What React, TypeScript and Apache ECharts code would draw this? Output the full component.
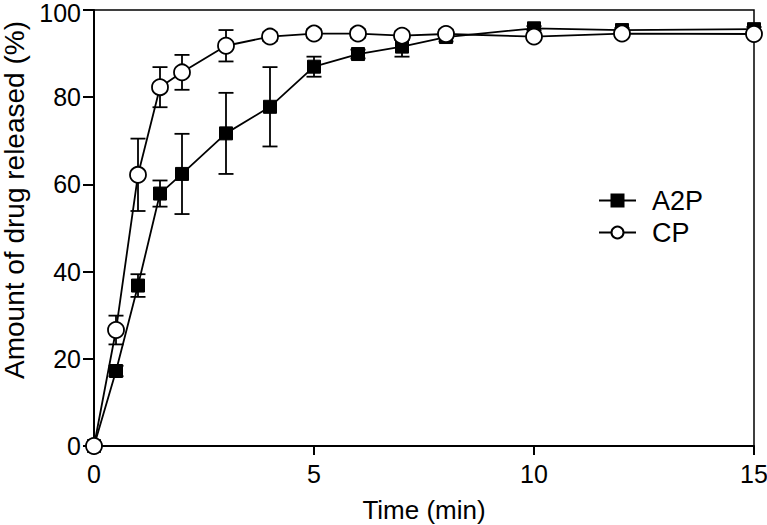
import React, { useEffect, useRef } from "react";
import * as echarts from "echarts";

const times = [0, 0.5, 1, 1.5, 2, 3, 4, 5, 6, 7, 8, 10, 12, 15];
const a2pMean = [0, 17.2, 36.8, 57.9, 62.4, 71.7, 77.8, 87.0, 89.9, 91.6, 93.8, 95.8, 95.4, 95.6];
const a2pSd = [0, 1.2, 2.6, 3.0, 9.2, 9.3, 9.1, 2.3, 1.0, 2.3, 1.0, 0.5, 0.5, 0.5];
const cpMean = [0, 26.6, 62.2, 82.3, 85.7, 91.8, 93.9, 94.6, 94.6, 94.1, 94.5, 93.9, 94.6, 94.5];
const cpSd = [0, 3.3, 8.3, 4.6, 4.0, 3.6, 1.0, 1.0, 1.0, 1.0, 1.0, 0.5, 0.5, 0.5];
const xTicks = [0, 5, 10, 15];
const yTicks = [0, 20, 40, 60, 80, 100];
const seriesNames = ["A2P", "CP"];

const FONT = "'Liberation Sans', Arial, Helvetica, sans-serif";

function errData(mean: number[], sd: number[]) {
  return times.map((t, i) => [t, mean[i] - sd[i], mean[i] + sd[i]]);
}

function errRender(params: any, api: any) {
  const x = api.value(0);
  const lo = api.value(1);
  const hi = api.value(2);
  const pHi = api.coord([x, hi]);
  const pLo = api.coord([x, lo]);
  const w = 7.5;
  const style = { stroke: "#000", lineWidth: 1.8 };
  return {
    type: "group",
    children: [
      { type: "line", shape: { x1: pHi[0], y1: pHi[1], x2: pLo[0], y2: pLo[1] }, style },
      { type: "line", shape: { x1: pHi[0] - w, y1: pHi[1], x2: pHi[0] + w, y2: pHi[1] }, style },
      { type: "line", shape: { x1: pLo[0] - w, y1: pLo[1], x2: pLo[0] + w, y2: pLo[1] }, style },
    ],
  };
}

export default function App() {
  const ref = useRef<HTMLDivElement>(null);
  useEffect(() => {
    if (!ref.current) return;
    const chart = echarts.init(ref.current, undefined, { renderer: "svg" });
    const yMax = yTicks[yTicks.length - 1];
    chart.setOption({
      animation: false,
      backgroundColor: "#fff",
      textStyle: { fontFamily: FONT },
      grid: {
        left: 94,
        top: 10,
        width: 660,
        height: 436,
        containLabel: false,
        outerBoundsMode: "none",
        show: true,
        borderColor: "#000",
        borderWidth: 1.5,
        backgroundColor: "transparent",
      },
      legend: {
        data: seriesNames,
        orient: "vertical",
        left: 593,
        top: 182,
        itemWidth: 37,
        itemHeight: 15,
        itemGap: 5,
        textStyle: { fontSize: 27, color: "#000", fontFamily: FONT, padding: [0, 0, 0, 11] },
      },
      xAxis: {
        type: "value",
        min: 0,
        max: 15,
        interval: 5,
        name: "Time (min)",
        nameLocation: "middle",
        nameGap: 51,
        nameTextStyle: { fontSize: 26, color: "#000", fontFamily: FONT },
        axisLine: { lineStyle: { color: "#000", width: 2 } },
        axisTick: { show: true, length: 9, lineStyle: { color: "#000", width: 2 } },
        axisLabel: {
          fontSize: 25,
          color: "#000",
          fontFamily: FONT,
          margin: 15,
          formatter: (v: number) => (xTicks.includes(v) ? String(v) : ""),
        },
        splitLine: { show: false },
      },
      yAxis: {
        type: "value",
        min: 0,
        max: 100,
        interval: 20,
        name: "Amount of drug released (%)",
        nameLocation: "middle",
        nameGap: 64,
        nameTextStyle: { fontSize: 28, color: "#000", fontFamily: FONT, padding: [0, 0, 0, 56] },
        axisLine: { lineStyle: { color: "#000", width: 2 } },
        axisTick: { show: true, length: 11, lineStyle: { color: "#000", width: 2 } },
        axisLabel: {
          fontSize: 25,
          lineHeight: 20,
          color: "#000",
          fontFamily: FONT,
          margin: 13,
          formatter: (v: number) =>
            v === yMax ? `{t|${v}}` : yTicks.includes(v) ? String(v) : "",
          rich: {
            t: { fontSize: 25, lineHeight: 20, color: "#000", fontFamily: FONT, padding: [6, 0, 0, 0] },
          },
        },
        splitLine: { show: false },
      },
      series: [
        {
          type: "custom",
          name: "A2P err",
          renderItem: errRender,
          encode: { x: 0, y: [1, 2] },
          data: errData(a2pMean, a2pSd),
          z: 1,
          silent: true,
        },
        {
          type: "custom",
          name: "CP err",
          renderItem: errRender,
          encode: { x: 0, y: [1, 2] },
          data: errData(cpMean, cpSd),
          z: 1,
          silent: true,
        },
        {
          type: "line",
          name: "A2P",
          data: times.map((t, i) => [t, a2pMean[i]]),
          symbol: "rect",
          symbolSize: 13,
          showAllSymbol: true,
          lineStyle: { color: "#000", width: 1.8 },
          itemStyle: { color: "#000", borderColor: "#000", borderWidth: 1 },
          z: 2,
        },
        {
          type: "line",
          name: "CP",
          data: times.map((t, i) => [t, cpMean[i]]),
          symbol: "circle",
          symbolSize: 16,
          showAllSymbol: true,
          lineStyle: { color: "#000", width: 1.8 },
          itemStyle: { color: "#fff", borderColor: "#000", borderWidth: 1.8 },
          z: 3,
        },
      ],
    });
    return () => chart.dispose();
  }, []);
  return (
    <div
      ref={ref}
      style={{ position: "fixed", left: 0, top: 0, width: 767, height: 525, background: "#fff" }}
    />
  );
}
